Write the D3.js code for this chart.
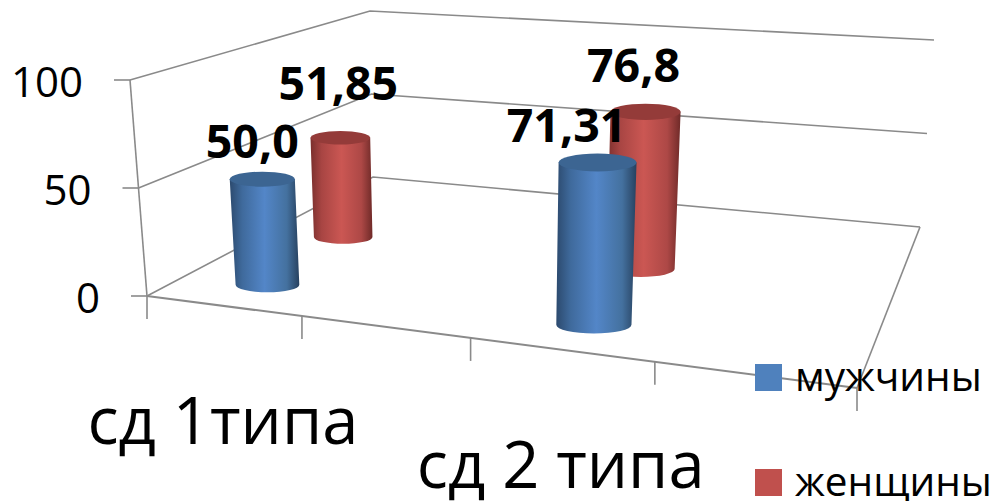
<!DOCTYPE html>
<html>
<head>
<meta charset="utf-8">
<script src="https://cdn.jsdelivr.net/npm/d3@7"></script>
<style>
  html, body { margin: 0; padding: 0; background: #fff; }
  svg { display: block; }
  text { font-family: "Open Sans", sans-serif; fill: #000; }
</style>
</head>
<body>
<svg id="chart" width="997" height="501"></svg>
<script>
// Chart content
const categories = ["сд 1типа", "", "сд 2 типа", ""];
const seriesNames = ["мужчины", "женщины"];
const menValues = [50.0, null, 71.31, null];
const womenValues = [51.85, null, 76.8, null];
const valueLabels = [["50,0", null, "71,31", null], ["51,85", null, "76,8", null]];
const valueTicks = [0, 50, 100];
const seriesColors = ["#4f81bd", "#c0504d"];

// Shading stops of each cylinder: edge, shoulder, highlight, far shoulder, far edge, lid
const shades = [
  { stops: ["#2c4a6e", "#3f6a9c", "#5386c8", "#44719f", "#27415f"], lid: "#3c6592" },
  { stops: ["#7a2f2d", "#a84543", "#cb5753", "#ad4846", "#6f2a28"], lid: "#943b39" }
];
const shadeOffsets = ["0%", "18%", "50%", "82%", "100%"];

// Hand-placed data label offsets from the centre of a cylinder lid
const labelNudge = [
  [[-10, -21], null, [-31, -20], null],
  [[-2, -38], null, [-12, -30], null]
];

// Corners of the plot box on screen: floor and ceiling, front-left, front-right, back-right, back-left
const floorQuad = [[147, 296], [857, 388], [920, 227], [373, 177]];
const ceilQuad = [[130, 80], [878, 135], [934, 40], [370, 11]];

// Projective map from the unit square onto a quadrilateral
function quadMap(q) {
  const [[x0, y0], [x1, y1], [x2, y2], [x3, y3]] = q;
  const dx1 = x1 - x2, dx2 = x3 - x2, sx = x0 - x1 + x2 - x3;
  const dy1 = y1 - y2, dy2 = y3 - y2, sy = y0 - y1 + y2 - y3;
  const den = dx1 * dy2 - dx2 * dy1;
  const g = (sx * dy2 - dx2 * sy) / den;
  const h = (dx1 * sy - sx * dy1) / den;
  const a = x1 - x0 + g * x1, b = x3 - x0 + h * x3;
  const d = y1 - y0 + g * y1, e = y3 - y0 + h * y3;
  return (u, v) => {
    const w = g * u + h * v + 1;
    return [(a * u + b * v + x0) / w, (d * u + e * v + y0) / w];
  };
}

const floorMap = quadMap(floorQuad);
const ceilMap = quadMap(ceilQuad);
const heightScale = d3.scaleLinear().domain([0, 100]).range([0, 1]);
const categoryScale = d3.scaleBand().domain(d3.range(categories.length)).range([0, 1]);
const depthScale = d3.scalePoint().domain(seriesNames).range([0.14, 0.49]);

// Screen position of a point given along-axis u, depth v and value
function project(u, v, value) {
  const t = heightScale(value);
  const f = floorMap(u, v), c = ceilMap(u, v);
  return [f[0] + (c[0] - f[0]) * t, f[1] + (c[1] - f[1]) * t];
}

const svg = d3.select("#chart");
const defs = svg.append("defs");
const gridColor = "#8a8a8a";
const line = d3.line();

const grid = svg.append("g").attr("fill", "none").attr("stroke", gridColor).attr("stroke-width", 1.6);

// Wall gridlines and their ticks
valueTicks.forEach(t => {
  grid.append("path").attr("d", line([project(0, 0, t), project(0, 1, t), project(1, 1, t)]));
  const p = project(0, 0, t);
  grid.append("path").attr("d", line([[p[0] - 16, p[1]], p]));
});

// Box edges
grid.append("path").attr("d", line([project(0, 0, 0), project(0, 0, 100)]));
grid.append("path").attr("stroke-width", 2).attr("d", line([project(0, 0, 0), project(1, 0, 0)]));
grid.append("path").attr("d", line([project(1, 0, 0), project(1, 1, 0)]));

// Category ticks hanging off the front edge
d3.range(categories.length + 1).forEach(i => {
  const p = project(i / categories.length, 0, 0);
  grid.append("path").attr("d", line([p, [p[0], p[1] + 23]]));
});

// Value axis labels
svg.append("g").selectAll("text").data(valueTicks).join("text")
  .attr("x", t => project(0, 0, t)[0] - 47)
  .attr("y", t => project(0, 0, t)[1] + 17)
  .attr("text-anchor", "end")
  .attr("font-size", 42)
  .text(t => t);

// Category labels below the front edge
const catX = i => categoryScale(i) + categoryScale.bandwidth() / 2;
svg.append("g").selectAll("text")
  .data(categories.map((c, i) => ({ c, i })).filter(d => d.c))
  .join("text")
  .attr("x", d => project(catX(d.i), 0, 0)[0])
  .attr("y", d => project(catX(d.i), 0, 0)[1] + 138)
  .attr("text-anchor", "middle")
  .attr("font-size", 65)
  .text(d => d.c);

// Cylinders, rear series first; each series sits slightly off its band's centre
const barHalf = 0.053, lidRatio = 0.23, barShift = [0.012, 0.004];
const seriesValues = [menValues, womenValues];
const bars = svg.append("g");
[1, 0].forEach(s => {
  const grad = defs.append("linearGradient").attr("id", "shade" + s);
  shades[s].stops.forEach((c, k) =>
    grad.append("stop").attr("offset", shadeOffsets[k]).attr("stop-color", c));

  const v = depthScale(seriesNames[s]);
  seriesValues[s].forEach((val, i) => {
    if (val == null) return;
    const u = catX(i) + barShift[s];
    const base = project(u, v, 0), top = project(u, v, val);
    const rBase = (project(u + barHalf, v, 0)[0] - project(u - barHalf, v, 0)[0]) / 2;
    const rTop = (project(u + barHalf, v, val)[0] - project(u - barHalf, v, val)[0]) / 2;
    const ryBase = rBase * lidRatio, ryTop = rTop * lidRatio;
    bars.append("path")
      .attr("fill", `url(#shade${s})`)
      .attr("d", `M${top[0] - rTop},${top[1]}L${base[0] - rBase},${base[1]}` +
        `A${rBase},${ryBase} 0 0 0 ${base[0] + rBase},${base[1]}` +
        `L${top[0] + rTop},${top[1]}Z`);
    bars.append("ellipse")
      .attr("cx", top[0]).attr("cy", top[1])
      .attr("rx", rTop).attr("ry", ryTop)
      .attr("fill", shades[s].lid);
  });
});

// Data labels above the cylinders
const labelLayer = svg.append("g");
seriesValues.forEach((vals, s) => {
  const v = depthScale(seriesNames[s]);
  vals.forEach((val, i) => {
    if (val == null) return;
    const top = project(catX(i) + barShift[s], v, val);
    const [dx, dy] = labelNudge[s][i];
    labelLayer.append("text")
      .attr("x", top[0] + dx).attr("y", top[1] + dy)
      .attr("text-anchor", "middle")
      .attr("font-size", 46.5).attr("font-weight", 700)
      .text(valueLabels[s][i]);
  });
});

// Legend
const legend = svg.append("g");
const legendY = d3.scalePoint().domain(seriesNames).range([364, 469]);
seriesNames.forEach((name, s) => {
  const y = legendY(name);
  legend.append("rect").attr("x", 755).attr("y", y).attr("width", 27).attr("height", 27).attr("fill", seriesColors[s]);
  legend.append("text").attr("x", 795).attr("y", y + 27).attr("font-size", 40.5).text(name);
});
</script>
</body>
</html>
